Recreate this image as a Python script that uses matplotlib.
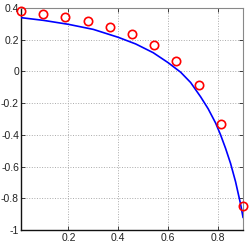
import numpy as np
import matplotlib
matplotlib.use("Agg")
import matplotlib.pyplot as plt
from matplotlib.ticker import FormatStrFormatter

# red circles (measured points)
marker_x = [0.01, 0.099, 0.188, 0.277, 0.366, 0.455, 0.544, 0.633, 0.722, 0.811, 0.9]
marker_y = [0.381, 0.365, 0.344, 0.319, 0.283, 0.234, 0.167, 0.068, -0.084, -0.334, -0.85]

# blue curve
curve_x = [0.01, 0.1, 0.2, 0.3, 0.4, 0.47, 0.54, 0.6, 0.65, 0.69, 0.73, 0.76,
           0.79, 0.81, 0.83, 0.85, 0.87, 0.89, 0.9]
curve_y = [0.339, 0.322, 0.297, 0.265, 0.215, 0.173, 0.118, 0.055, -0.005, -0.07,
           -0.16, -0.235, -0.325, -0.40, -0.485, -0.58, -0.695, -0.835, -0.92]

xticks = [0.2, 0.4, 0.6, 0.8]
yticks = [-1, -0.8, -0.6, -0.4, -0.2, 0, 0.2, 0.4]

plt.rcParams['font.family'] = ['Liberation Sans', 'DejaVu Sans']

fig = plt.figure(figsize=(2.49, 2.42), dpi=100)
ax = fig.add_axes([0.0843, 0.0496, 0.8917, 0.9174])

ax.plot(curve_x, curve_y, color='#0000ff', lw=1.2, zorder=3)
ax.plot(marker_x, marker_y, 'o', mfc='none', mec='#ff0000', mew=1.2, ms=6,
        clip_on=False, zorder=4)

ax.set_xlim(0.01, 0.9)
ax.set_ylim(-1, 0.4)
ax.set_xticks(xticks)
ax.set_yticks(yticks)
ax.xaxis.set_major_formatter(FormatStrFormatter('%g'))
ax.yaxis.set_major_formatter(FormatStrFormatter('%g'))
ax.tick_params(direction='in', length=3, width=0.6, labelsize=7.5, pad=2,
               top=True, right=True, colors='#222222')
ax.tick_params(axis='y', pad=1.5)
ax.grid(True, linestyle=':', color='#aaaaaa', lw=0.7)

for side in ['left', 'bottom']:
    ax.spines[side].set_color('#111111')
    ax.spines[side].set_linewidth(1.0)
for side in ['top', 'right']:
    ax.spines[side].set_color('#888888')
    ax.spines[side].set_linewidth(0.8)

fig.savefig('out.png', dpi=100)
